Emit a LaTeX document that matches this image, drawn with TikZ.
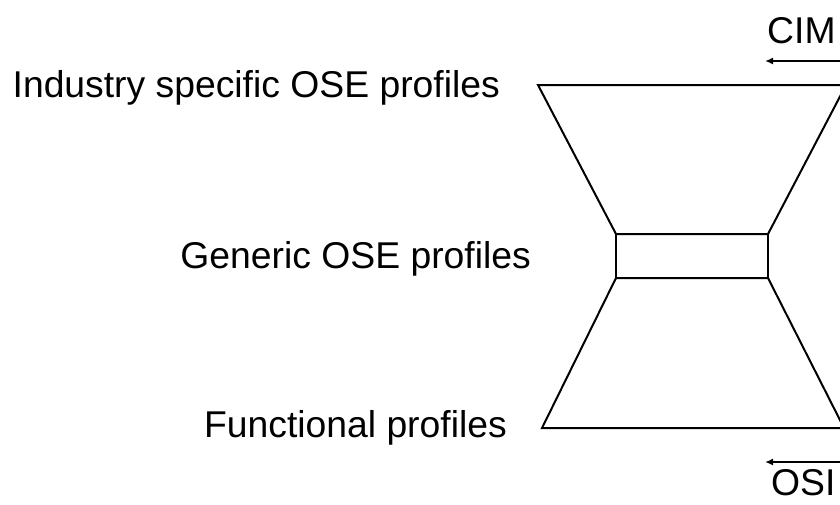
\documentclass[tikz,border=0pt]{standalone}
\usepackage{fontspec}
\setmainfont{Liberation Sans}
\usetikzlibrary{arrows.meta}
\begin{document}
\begin{tikzpicture}[x=1pt,y=-1pt,
  lbl/.style={font=\fontsize{37.3}{42}\selectfont, inner sep=0pt, anchor=base east},
  toplbl/.style={font=\fontsize{37.3}{42}\selectfont, inner sep=0pt, anchor=base west},
  edge/.style={line width=2pt, line join=miter},
  scalearrow/.style={line width=1.8pt, -{Latex[length=8pt,width=7pt]}}]
\useasboundingbox (0,0) rectangle (840,504);
\clip (0,0) rectangle (840,504);
% labels
\node[lbl] (ind) at (500,97) {Industry specific OSE profiles};
\node[lbl] (gen) at (531,268) {Generic OSE profiles};
\node[lbl] (fun) at (507,437) {Functional profiles};
\node[toplbl] (cim) at (767,43) {CIM};
\node[toplbl] (osi) at (771,495) {OSI};
% hourglass corners
\coordinate (tl) at (538,85);
\coordinate (tr) at (846,85);
\coordinate (rtl) at (616,234);
\coordinate (rtr) at (768,234);
\coordinate (rbl) at (616,278);
\coordinate (rbr) at (768,278);
\coordinate (bl) at (542,428);
\coordinate (br) at (844,428);
\draw[edge] (tl) -- (tr) -- (rtr) -- (rtl) -- cycle;
\draw[edge] (rtl) rectangle (rbr);
\draw[edge] (rbl) -- (rbr) -- (br) -- (bl) -- cycle;
% scale arrows
\coordinate (cimR) at (880,61);
\coordinate (cimL) at (765,61);
\coordinate (osiR) at (880,462);
\coordinate (osiL) at (765,462);
\draw[scalearrow] (cimR) -- (cimL);
\draw[scalearrow] (osiR) -- (osiL);
\end{tikzpicture}
\end{document}
